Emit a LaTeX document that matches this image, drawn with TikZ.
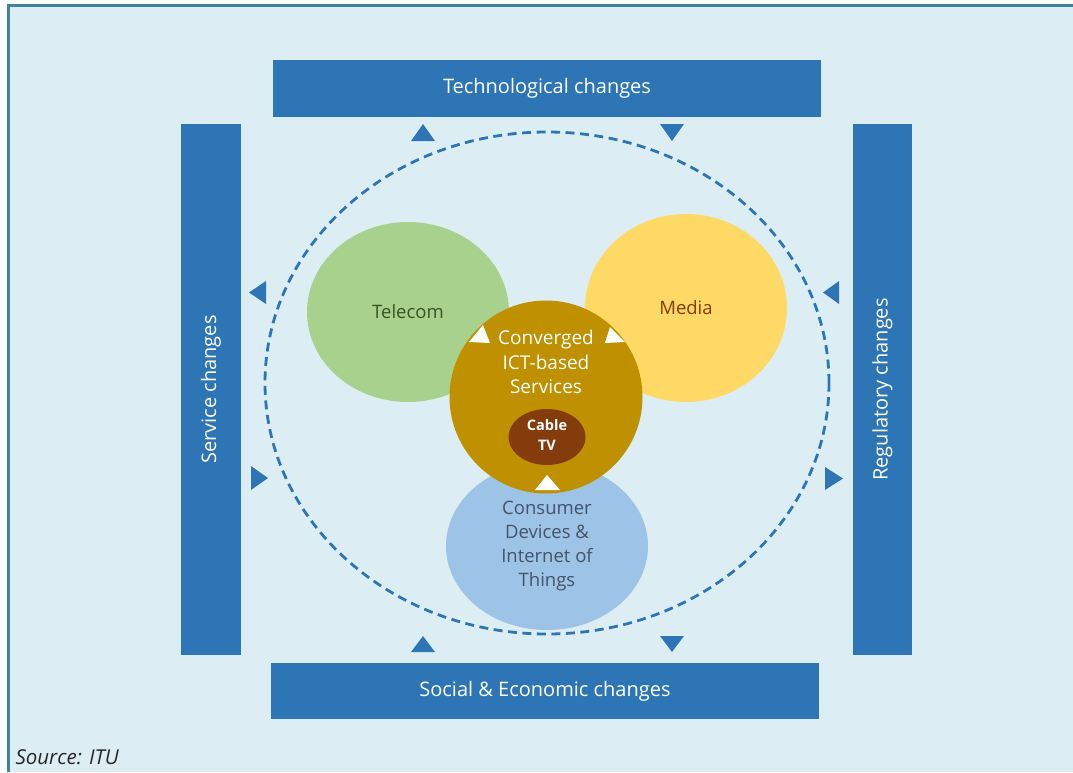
\documentclass[tikz,border=0pt]{standalone}
\usepackage{fontspec}
\setmainfont{Open Sans}
\usetikzlibrary{shapes.geometric}
\definecolor{bgc}{HTML}{DCEEF4}
\definecolor{framec}{HTML}{3C8598}
\definecolor{boxblue}{HTML}{2E75B6}
\definecolor{telgreen}{HTML}{A9D18E}
\definecolor{medyellow}{HTML}{FFD966}
\definecolor{conblue}{HTML}{9DC3E6}
\definecolor{goldc}{HTML}{BF9000}
\definecolor{brownc}{HTML}{843C0C}
\definecolor{teltext}{HTML}{375623}
\definecolor{context}{HTML}{44546A}
\tikzset{
  box/.style={rectangle, fill=boxblue, text=white, inner sep=0pt, font=\fontsize{20}{22}\selectfont},
  blob/.style={ellipse, inner sep=0pt, align=center, font=\fontsize{18.5}{24}\selectfont},
  tri/.style={fill=boxblue},
  wtri/.style={fill=white},
  dashring/.style={draw=boxblue, line width=2.8pt, dash pattern=on 9pt off 5.5pt}
}
\begin{document}
\begin{tikzpicture}[x=1pt,y=-1pt]
\useasboundingbox (0,0) rectangle (1073,772);
\fill[white] (0,0) rectangle (1073,772);
\fill[bgc] (8.5,5.5) rectangle (1073,772);
\draw[framec, line width=3pt] (8.5,772) -- (8.5,5.5) -- (1073,5.5);
% boxes
\node[box, minimum width=548pt, minimum height=57pt] (tech) at (547,88.5) {Technological changes};
\node[box, minimum width=548pt, minimum height=56pt] (social) at (545,691) {Social \& Economic changes};
\node[box, rotate=90, minimum width=531pt, minimum height=60pt] (service) at (211,389.5) {Service changes};
\node[box, rotate=90, minimum width=531pt, minimum height=59pt] (regul) at (882.5,389.5) {Regulatory changes};
% dashed ring
\draw[dashring] (547,383) ellipse [x radius=282pt, y radius=251pt];
% blue triangles
\fill[tri] (411,141) -- (435,141) -- (423,124) -- cycle;
\fill[tri] (660,124) -- (684,124) -- (672,141) -- cycle;
\fill[tri] (411,652) -- (435,652) -- (423,636) -- cycle;
\fill[tri] (660,636) -- (684,636) -- (672,652) -- cycle;
\fill[tri] (266,281) -- (266,304) -- (249,292.5) -- cycle;
\fill[tri] (251,466) -- (251,490) -- (268,478) -- cycle;
\fill[tri] (839,281) -- (839,304) -- (823,292.5) -- cycle;
\fill[tri] (825,467) -- (825,490) -- (843,478.5) -- cycle;
% ellipses
\node[blob, fill=telgreen, text=teltext, minimum width=202pt, minimum height=180pt] (telecom) at (408,312) {Telecom};
\node[blob, fill=medyellow, text=brownc, minimum width=202pt, minimum height=188pt] (media) at (686,308) {Media};
\node[blob, fill=conblue, text=context, minimum width=202pt, minimum height=168pt] (consumer) at (547,546) {Consumer\\Devices \&\\Internet of\\Things};
\node[circle, fill=goldc, minimum size=193pt, inner sep=0pt] (conv) at (546,397) {};
\node[ellipse, fill=brownc, minimum width=77pt, minimum height=56pt, inner sep=0pt] (cable) at (547,437) {};
\node[text=white, align=center, font=\fontsize{19}{24.5}\selectfont] (convtext) at (546,362) {Converged\\ICT-based\\Services};
\node[text=white, align=center, font=\bfseries\fontsize{14.5}{20}\selectfont] (cabletext) at (547,435) {Cable\\TV};
% white triangles
\fill[wtri] (483,325) -- (469,342) -- (490,343) -- cycle;
\fill[wtri] (610,327) -- (605,343) -- (625,342) -- cycle;
\fill[wtri] (547,475) -- (535,490) -- (560,490) -- cycle;
% source
\node[anchor=west, text=black!85, font=\itshape\fontsize{20.5}{22}\selectfont] (src) at (12,757) {Source: ITU};
\end{tikzpicture}
\end{document}
